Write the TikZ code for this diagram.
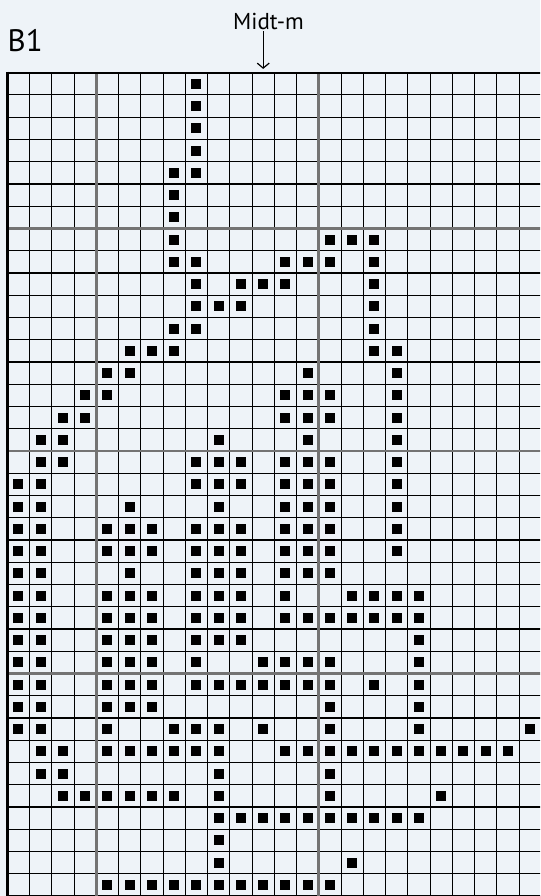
\documentclass[tikz,border=0pt]{standalone}
\usepackage{fontspec}
\setmainfont{PT Sans}
\usetikzlibrary{arrows.meta}
\definecolor{paper}{HTML}{EEF3F8}
\definecolor{tenline}{HTML}{737373}
\definecolor{ink}{HTML}{000000}

\begin{document}
\begin{tikzpicture}[
    x=22.25pt, y=-22.25pt,
    line cap=butt, line join=miter,
    every node/.style={inner sep=0pt, text=ink},
    cellline/.style={ink, line width=1.1pt},
    tenrule/.style={tenline, line width=2.7pt},
    frame/.style={ink, line width=2.2pt},
    stitch/.style={fill=ink},
    pil/.style={ink, line width=1.2pt, -{Straight Barb[length=5pt,width=12pt]}},
]

% --- Page and background ---
\useasboundingbox (-0.328,-3.267) rectangle (23.94,37.0);
\fill[paper] (-0.328,-3.267) rectangle (23.94,37.0);
\clip (-0.328,-3.267) rectangle (23.94,37.0);

% --- Chart title and centre mark ---
\node[anchor=base west, font=\fontsize{31}{36}\selectfont] (tittel) at (0.01,-0.953) {B1};
\node[anchor=base, inner sep=1.5pt, font=\fontsize{23}{27}\selectfont] (midt) at (11.74,-1.96) {Midt-m};
\coordinate (midtpkt) at (11.5,-0.17);
\draw[pil] (midt.south -| midtpkt) -- (midtpkt);

% --- Thin cell lines ---
\foreach \c in {1,2,3,5,6,7,8,9,10,11,12,13,15,16,17,18,19,20,21,22,23,24}
    \draw[cellline] (\c,0) -- (\c,37);
\foreach \r in {1,...,6,8,9,...,16,18,19,...,26,28,29,...,37}
    \draw[cellline] (0,\r) -- (24,\r);

% --- Every tenth line in grey ---
\foreach \c in {4,14}
    \draw[tenrule] (\c,0) -- (\c,37);
\foreach \r in {7,17,27}
    \draw[tenrule] (0,\r) -- (24,\r);

% --- Outer frame (top and left) ---
\draw[frame] (24,0) -- (0,0);
\draw[ink, line width=3pt] (0,-0.05) -- (0,37);

% --- Knitted stitches: row/columns from top left ---
\foreach \r/\cols in {
    0/{8}, 1/{8}, 2/{8}, 3/{8}, 4/{7,8}, 5/{7}, 6/{7},
    7/{7,14,15,16},
    8/{7,8,12,13,14,16},
    9/{8,10,11,12,16},
    10/{8,9,10,16},
    11/{7,8,16},
    12/{5,6,7,16,17},
    13/{4,5,13,17},
    14/{3,4,12,13,14,17},
    15/{2,3,12,13,14,17},
    16/{1,2,9,13,17},
    17/{1,2,8,9,10,12,13,14,17},
    18/{0,1,8,9,10,12,13,14,17},
    19/{0,1,5,9,12,13,14,17},
    20/{0,1,4,5,6,8,9,10,12,13,14,17},
    21/{0,1,4,5,6,8,9,10,12,13,14,17},
    22/{0,1,5,8,9,10,12,13,14},
    23/{0,1,4,5,6,8,9,10,12,15,16,17,18},
    24/{0,1,4,5,6,8,9,10,12,13,14,15,16,17,18},
    25/{0,1,4,5,6,8,9,10,18},
    26/{0,1,4,5,6,8,11,12,13,14,18},
    27/{0,1,4,5,6,8,9,10,11,12,13,14,16,18},
    28/{0,1,4,5,6,14,18},
    29/{0,1,4,7,8,9,11,14,18,23},
    30/{1,2,4,5,6,7,8,9,12,13,14,15,16,17,18,19,20,21,22},
    31/{1,2,9,14},
    32/{2,3,4,5,6,7,9,14,19},
    33/{9,10,11,12,13,14,15,16,17,18},
    34/{9},
    35/{9,15},
    36/{4,5,6,7,8,9,10,11,12,13,14}}
  \foreach \c in \cols
    \fill[stitch] (\c+0.275,\r+0.275) rectangle ++(0.45,0.45);

\end{tikzpicture}
\end{document}
